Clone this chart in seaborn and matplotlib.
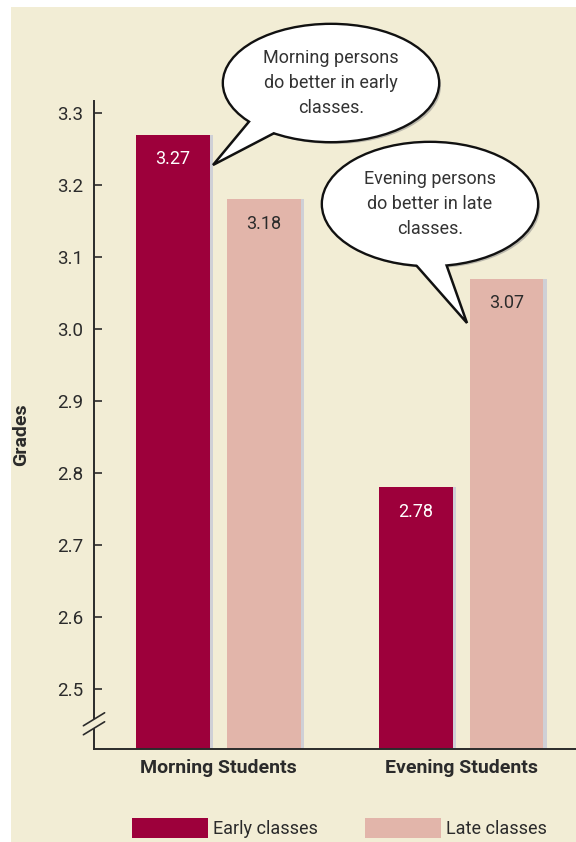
import matplotlib
matplotlib.use('Agg')
import matplotlib.pyplot as plt
import matplotlib.patches as mpatches
import seaborn as sns
import pandas as pd

groups = ['Morning Students', 'Morning Students', 'Evening Students', 'Evening Students']
classes = ['Early classes', 'Late classes', 'Early classes', 'Late classes']
grades = [3.27, 3.18, 2.78, 3.07]
value_labels = ['3.27', '3.18', '2.78', '3.07']
yticks = [2.5, 2.6, 2.7, 2.8, 2.9, 3.0, 3.1, 3.2, 3.3]
bubble_texts = ['Morning persons\ndo better in early\nclasses.',
                'Evening persons\ndo better in late\nclasses.']

df = pd.DataFrame({'group': groups, 'classes': classes, 'grade': grades})

cream = '#f2edd5'
dark = '#9d003b'
pink = '#e2b5aa'
ink = '#2b2b2b'

sns.set_theme(style='white')
plt.rcParams['font.family'] = ['Roboto', 'DejaVu Sans']

W, H = 576, 842
fig = plt.figure(figsize=(W / 100, H / 100), dpi=100)
fig.patch.set_facecolor('white')


def px(x, y):
    # pixel position (from top-left) -> figure fraction
    return x / W, 1 - y / H


# cream panel behind the chart
fig.patches.append(mpatches.Rectangle(px(11, 842), (W - 11) / W, (842 - 7) / H,
                                      transform=fig.transFigure, facecolor=cream,
                                      edgecolor='none', zorder=-10))

ax = fig.add_axes([94 / W, (H - 749) / H, (W - 94) / W, (749 - 101) / H])
ax.set_facecolor('none')
ax.set_zorder(1)

sns.barplot(data=df, x='group', y='grade', hue='classes',
            palette=[dark, pink], width=0.75, gap=0.187, saturation=1,
            edgecolor='none', linewidth=0, ax=ax, legend=False, zorder=2)

ax.set_ylim(2.4167, 3.3167)
ax.set_xlim(-0.513, 1.474)

# thin grey shade on the right side of each bar + value labels
bars = sorted(ax.patches, key=lambda p: p.get_x())
for bar, lab, cls in zip(bars, value_labels, classes):
    x0, w, h = bar.get_x(), bar.get_width(), bar.get_height()
    ax.add_patch(mpatches.Rectangle((x0 + w, 0), 0.013, h, facecolor='#cfd0d6',
                                    edgecolor='none', zorder=1))
    col = 'white' if cls == 'Early classes' else ink
    ax.annotate(lab, (x0 + w / 2, h), xytext=(0, -11), textcoords='offset points',
                ha='center', va='top', color=col, fontsize=13, zorder=3)

ax.set_yticks(yticks)
ax.set_yticklabels([f'{v:.1f}' for v in yticks])
ax.tick_params(axis='y', direction='in', length=6, width=1.2, color=ink,
               labelsize=13.5, labelcolor=ink, pad=8, left=True)
ax.tick_params(axis='x', length=0, pad=7, labelsize=14, labelcolor=ink)
for t in ax.get_xticklabels():
    t.set_fontweight('bold')
ax.set_xlabel('')
ax.set_ylabel('Grades', fontsize=14, fontweight='bold', color=ink)
ax.yaxis.set_label_coords(-0.133, 0.485)

for s in ['top', 'right']:
    ax.spines[s].set_visible(False)
for s in ['left', 'bottom']:
    ax.spines[s].set_color(ink)
    ax.spines[s].set_linewidth(1.4)

# axis break on the y axis
ax.plot([0, 0], [2.4455, 2.4580], color=cream, lw=4, solid_capstyle='butt',
        transform=ax.get_yaxis_transform(), clip_on=False, zorder=4)
for yb in [2.4455, 2.458]:
    ax.plot([-0.022, 0.022], [yb - 0.009, yb + 0.009], color=ink, lw=1.2,
            transform=ax.get_yaxis_transform(), clip_on=False, zorder=5)


def bubble(center, size, tail, text):
    cx, cy = px(*center)
    ew, eh = size[0] / W, size[1] / H
    tail_pts = [px(*p) for p in tail]
    shadow = mpatches.Ellipse((cx + 3 / W, cy - 3 / H), ew, eh, transform=fig.transFigure,
                              facecolor='#b9b6aa', edgecolor='none', zorder=6)
    outline = mpatches.Ellipse((cx, cy), ew, eh, transform=fig.transFigure,
                               facecolor='white', edgecolor='#111111', lw=3.4, zorder=7)
    tail_poly = mpatches.Polygon(tail_pts, closed=True, transform=fig.transFigure,
                                 facecolor='white', edgecolor='#111111', lw=1.8,
                                 joinstyle='miter', zorder=8)
    cover = mpatches.Ellipse((cx, cy), ew, eh, transform=fig.transFigure,
                             facecolor='white', edgecolor='none', zorder=9)
    for p in [shadow, outline, tail_poly, cover]:
        fig.patches.append(p)
    fig.text(cx, cy, text, ha='center', va='center', fontsize=13, color='#333333',
             linespacing=1.5, zorder=10)


bubble((331, 83), (214, 116), [(252, 118), (213, 165), (284, 128)], bubble_texts[0])
bubble((430, 204), (214, 122), [(408, 256), (467, 323), (444, 258)], bubble_texts[1])

# legend along the bottom
handles = [mpatches.Patch(facecolor=dark, edgecolor='none', label='Early classes'),
           mpatches.Patch(facecolor=pink, edgecolor='none', label='Late classes')]
fig.legend(handles=handles, loc='lower left', bbox_to_anchor=px(132, 838), ncol=2,
           frameon=False, fontsize=13, handlelength=4.2, handleheight=1.3,
           handletextpad=0.3, columnspacing=2.6, borderpad=0, borderaxespad=0,
           labelcolor=ink)

fig.savefig('out.png', dpi=100, facecolor=fig.get_facecolor())
